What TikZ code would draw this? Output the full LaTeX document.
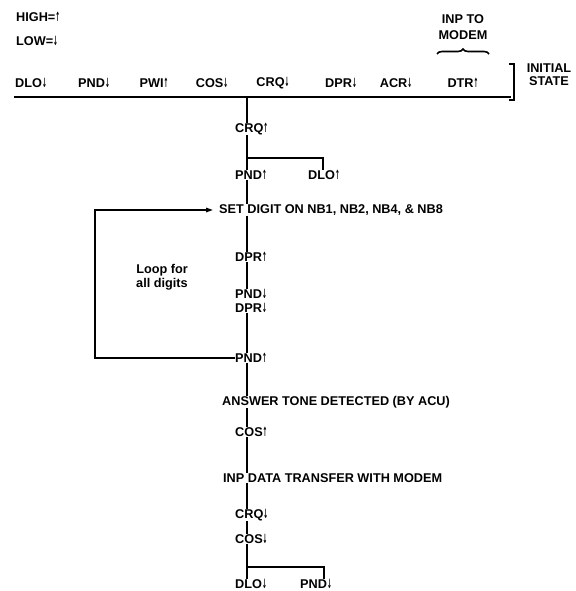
\documentclass[tikz,border=0pt]{standalone}
\usepackage{fontspec}
\setmainfont{Liberation Sans}
\newfontfamily\arrfont{DejaVu Sans}
\usetikzlibrary{arrows.meta,decorations.pathreplacing}
\newcommand{\arrup}{\scalebox{0.45}[1]{\arrfont\bfseries ↑}}
\newcommand{\arrdn}{\scalebox{0.45}[1]{\arrfont\bfseries ↓}}
\tikzset{
  lbl/.style={font=\bfseries\fontsize{12.7}{14}\selectfont, inner sep=0pt},
  flow/.style={lbl, anchor=west},
  wire/.style={line width=1.4pt},
}
\begin{document}
\begin{tikzpicture}[x=1pt,y=-1pt]
\useasboundingbox[fill=white] (0,0) rectangle (575,591);
% legend
\node[flow] (high) at (16,17) {HIGH=\arrup};
\node[flow] (low) at (16,41) {LOW=\arrdn};
% top row
\node[lbl] (t1) at (31,83) {DLO\arrdn};
\node[lbl] (t2) at (94,83) {PND\arrdn};
\node[lbl] (t3) at (154,83) {PWI\arrup};
\node[lbl] (t4) at (212,83) {COS\arrdn};
\node[lbl] (t5) at (273,83) {CRQ\arrdn};
\node[lbl] (t6) at (341,83) {DPR\arrdn};
\node[lbl] (t7) at (396,83) {ACR\arrdn};
\node[lbl] (t8) at (463,83) {DTR\arrup};
\node[lbl, align=center] (inp) at (463,27) {INP TO\\[2pt]MODEM};
\node[lbl, align=center] (init) at (549,75) {INITIAL\\[-1pt]STATE};
\draw[line width=1.6pt, decorate, decoration={brace, amplitude=5pt}]
  (437,54) -- (489,54);
\coordinate (b0) at (14,97);
\coordinate (b1) at (511,97);
\draw[wire] (b0) -- (b1);
\draw[wire] (509,64) -- (514,64) -- (514,100) -- (509,100);
% main flow
\coordinate (m) at (247,97);
\node[flow] (crq1) at (235,129) {CRQ\arrup};
\node[flow] (pnd1) at (235,175) {PND\arrup};
\node[flow] (dlo1) at (308,175) {DLO\arrup};
\node[flow] (set) at (219,210) {SET DIGIT ON NB1, NB2, NB4, \& NB8};
\node[flow] (dpr1) at (235,257) {DPR\arrup};
\node[lbl, align=center] (loop) at (162,277) {Loop for\\all digits};
\node[flow] (pnd2) at (235,294) {PND\arrdn};
\node[flow] (dpr2) at (235,308) {DPR\arrdn};
\node[flow] (pnd3) at (235,358) {PND\arrup};
\node[flow] (ans) at (222,402) {ANSWER TONE DETECTED (BY ACU)};
\node[flow] (cos1) at (235,432) {COS\arrup};
\node[flow] (inpd) at (223,478) {INP DATA TRANSFER WITH MODEM};
\node[flow] (crq2) at (235,515) {CRQ\arrdn};
\node[flow] (cos2) at (235,539) {COS\arrdn};
\node[flow] (dlo2) at (235,584) {DLO\arrdn};
\node[flow] (pnd4) at (300,584) {PND\arrdn};
\coordinate (br1) at (247,158);
\coordinate (br2) at (247,567);

\draw[wire] (m) -- (m |- crq1.north);
\draw[wire] (m |- crq1.south) -- (m |- pnd1.north);
\draw[wire] (br1) -| ([xshift=-1pt]dlo1.north);
\draw[wire] (m |- pnd1.south) -- (m |- set.north);
\draw[wire] (m |- set.south) -- (m |- dpr1.north);
\draw[wire] (m |- dpr1.south) -- (m |- pnd2.north);
\draw[wire] (m |- dpr2.south) -- (m |- pnd3.north);
\draw[wire] (m |- pnd3.south) -- (m |- ans.north);
\draw[wire] (m |- ans.south) -- (m |- cos1.north);
\draw[wire] (m |- cos1.south) -- (m |- inpd.north);
\draw[wire] (m |- inpd.south) -- (m |- crq2.north);
\draw[wire] (m |- crq2.south) -- (m |- cos2.north);
\draw[wire] (m |- cos2.south) -- (m |- dlo2.north);
\draw[wire] (br2) -| ([xshift=8pt]pnd4.north);
% loop
\draw[wire, -{Triangle[length=7pt,width=4.5pt]}] (pnd3.west) -- (95,358) -- (95,210) -- ([xshift=-6pt]set.west);
\end{tikzpicture}
\end{document}
